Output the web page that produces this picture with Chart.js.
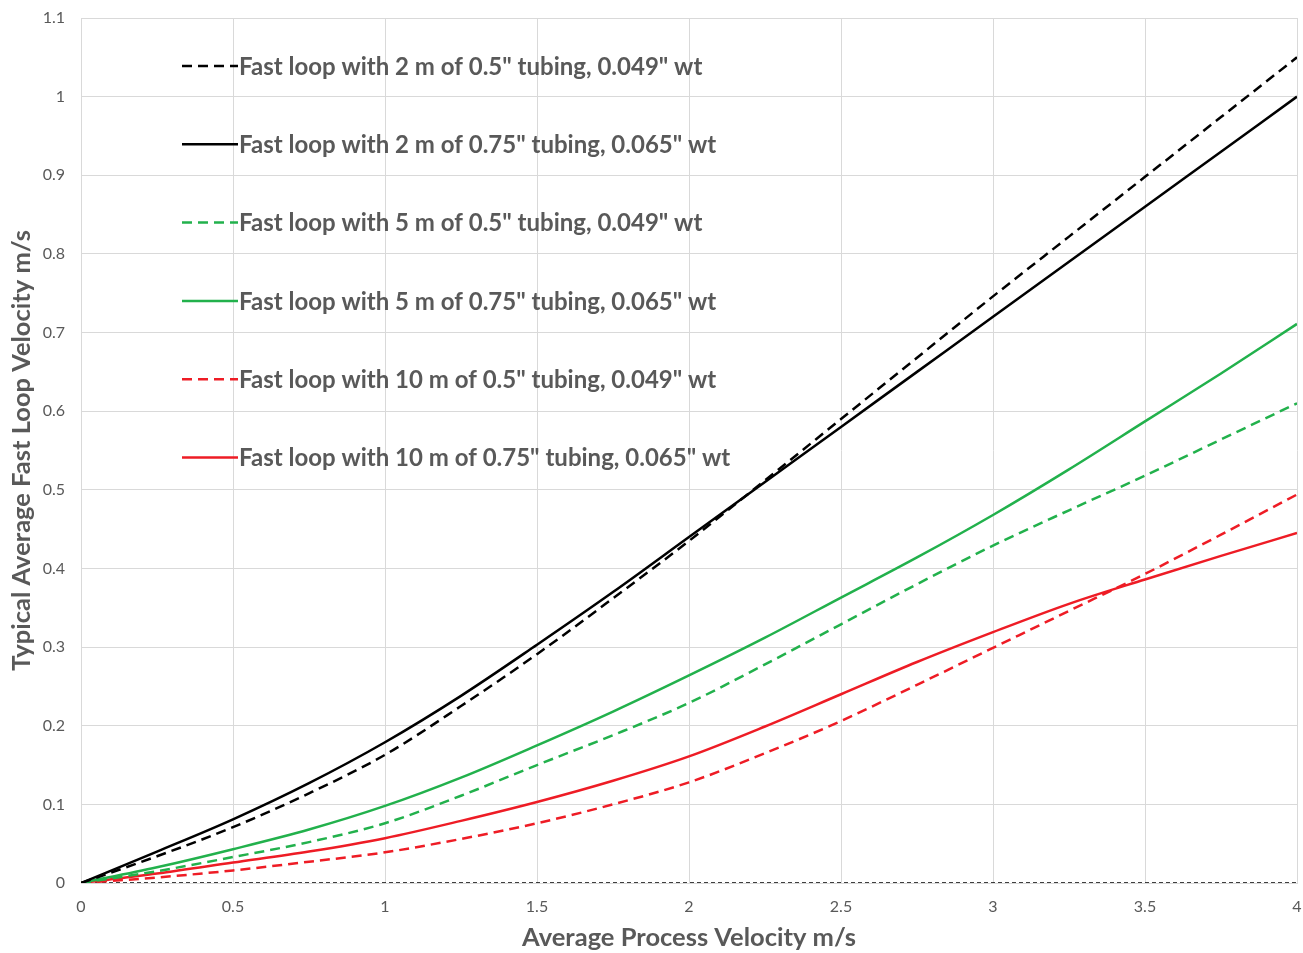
<!DOCTYPE html>
<html>
<head>
<meta charset="utf-8">
<script src="https://cdn.jsdelivr.net/npm/chart.js@4.4.1/dist/chart.umd.min.js"></script>
<style>
  html, body { margin: 0; padding: 0; background: #ffffff; }
</style>
</head>
<body>
<canvas id="chart" width="1303" height="953"></canvas>
<script>
// process velocity (m/s) on the x axis
var processVelocity = [0, 0.25, 0.5, 0.75, 1, 1.25, 1.5, 1.75, 2, 2.25, 2.5, 2.75, 3, 3.25, 3.5, 3.75, 4];

// fast loop velocity (m/s) for each tubing case
var loop2mHalf    = [0, 0.034, 0.071, 0.114, 0.163, 0.225, 0.291, 0.362, 0.435, 0.512, 0.590, 0.668, 0.746, 0.822, 0.898, 0.974, 1.050];
var loop2mThreeQ  = [0, 0.040, 0.081, 0.127, 0.179, 0.238, 0.303, 0.370, 0.440, 0.510, 0.580, 0.650, 0.720, 0.790, 0.860, 0.930, 1.000];
var loop5mHalf    = [0, 0.015, 0.033, 0.052, 0.076, 0.111, 0.150, 0.188, 0.229, 0.278, 0.329, 0.380, 0.429, 0.474, 0.518, 0.564, 0.610];
var loop5mThreeQ  = [0, 0.020, 0.043, 0.068, 0.098, 0.134, 0.175, 0.218, 0.264, 0.312, 0.363, 0.414, 0.468, 0.526, 0.587, 0.648, 0.711];
var loop10mHalf   = [0, 0.007, 0.016, 0.027, 0.039, 0.056, 0.076, 0.100, 0.128, 0.165, 0.206, 0.252, 0.299, 0.346, 0.393, 0.443, 0.494];
var loop10mThreeQ = [0, 0.012, 0.026, 0.040, 0.057, 0.079, 0.103, 0.130, 0.161, 0.199, 0.240, 0.281, 0.319, 0.355, 0.386, 0.416, 0.445];
var zeroLine      = [0, 0, 0, 0, 0, 0, 0, 0, 0, 0, 0, 0, 0, 0, 0, 0, 0];

var seriesLabels = [
    'Fast loop with 2 m of 0.5" tubing, 0.049" wt',
    'Fast loop with 2 m of 0.75" tubing, 0.065" wt',
    'Fast loop with 5 m of 0.5" tubing, 0.049" wt',
    'Fast loop with 5 m of 0.75" tubing, 0.065" wt',
    'Fast loop with 10 m of 0.5" tubing, 0.049" wt',
    'Fast loop with 10 m of 0.75" tubing, 0.065" wt'
];

var xTicks = [0, 0.5, 1, 1.5, 2, 2.5, 3, 3.5, 4];

var FONT = 'Lato, Calibri, "Open Sans", sans-serif';
var TEXT = '#595959';
var GRID = '#d9d9d9';
var DASH = [10, 6];

function pts(ys) {
    return processVelocity.map(function (x, i) { return { x: x, y: ys[i] }; });
}

function line(label, ys, color, dashed) {
    return {
        label: label,
        data: pts(ys),
        borderColor: color,
        backgroundColor: color,
        borderWidth: 2.5,
        borderDash: dashed ? DASH : [],
        pointRadius: 0,
        cubicInterpolationMode: 'monotone',
        fill: false
    };
}

function plainNumber(value) {
    return String(Math.round(value * 100) / 100);
}

// legend drawn inside the plot area, one entry per grid band
var insideLegend = {
    id: 'insideLegend',
    afterDatasetsDraw: function (chart) {
        var ctx = chart.ctx;
        var area = chart.chartArea;
        ctx.save();
        ctx.font = 'bold 24px ' + FONT;
        ctx.textBaseline = 'middle';
        ctx.fillStyle = TEXT;
        chart.data.datasets.forEach(function (ds, i) {
            if (!ds.label) return;
            var y = area.top + 48 + i * 78.3;
            var x0 = area.left + 101;
            ctx.beginPath();
            ctx.strokeStyle = ds.borderColor;
            ctx.lineWidth = 2.5;
            ctx.setLineDash(ds.borderDash || []);
            ctx.moveTo(x0, y);
            ctx.lineTo(x0 + 56, y);
            ctx.stroke();
            ctx.setLineDash([]);
            ctx.fillText(ds.label, x0 + 57, y + 1);
        });
        ctx.restore();
    }
};

var config = {
    type: 'line',
    data: {
        datasets: [
            line(seriesLabels[0], loop2mHalf, '#000000', true),
            line(seriesLabels[1], loop2mThreeQ, '#000000', false),
            line(seriesLabels[2], loop5mHalf, '#22b14c', true),
            line(seriesLabels[3], loop5mThreeQ, '#22b14c', false),
            line(seriesLabels[4], loop10mHalf, '#ee1c25', true),
            line(seriesLabels[5], loop10mThreeQ, '#ee1c25', false),
            {
                label: '',
                data: pts(zeroLine),
                borderColor: '#000000',
                borderWidth: 1.5,
                borderDash: [4, 3],
                pointRadius: 0
            }
        ]
    },
    options: {
        responsive: false,
        animation: false,
        layout: { padding: { top: 18, right: 6, left: 0, bottom: 0 } },
        plugins: {
            legend: { display: false },
            tooltip: { enabled: false }
        },
        scales: {
            x: {
                type: 'linear',
                min: 0,
                max: 4,
                afterBuildTicks: function (scale) {
                    scale.ticks = xTicks.map(function (v) { return { value: v }; });
                },
                afterFit: function (scale) { scale.height = 70; },
                ticks: { color: TEXT, font: { family: FONT, size: 16 }, padding: 0, maxRotation: 0, callback: plainNumber },
                grid: { color: GRID, lineWidth: 1, drawTicks: true, tickLength: 14, tickColor: 'rgba(0,0,0,0)' },
                border: { color: GRID },
                title: {
                    display: true,
                    text: 'Average Process Velocity m/s',
                    color: TEXT,
                    font: { family: FONT, size: 25.5, weight: 'bold' },
                    padding: { top: 0, bottom: 0 }
                }
            },
            y: {
                min: 0,
                max: 1.1,
                afterFit: function (scale) { scale.width = 81; },
                ticks: { stepSize: 0.1, color: TEXT, font: { family: FONT, size: 16 }, padding: 0, callback: plainNumber },
                grid: { color: GRID, lineWidth: 1, drawTicks: true, tickLength: 16, tickColor: 'rgba(0,0,0,0)' },
                border: { color: GRID },
                title: {
                    display: true,
                    text: 'Typical Average Fast Loop Velocity m/s',
                    color: TEXT,
                    font: { family: FONT, size: 25.5, weight: 'bold' },
                    padding: { top: 6, bottom: 0 }
                }
            }
        }
    },
    plugins: [insideLegend]
};

var chartCanvas = document.getElementById('chart').getContext('2d');
new Chart(chartCanvas, config);
</script>
</body>
</html>
